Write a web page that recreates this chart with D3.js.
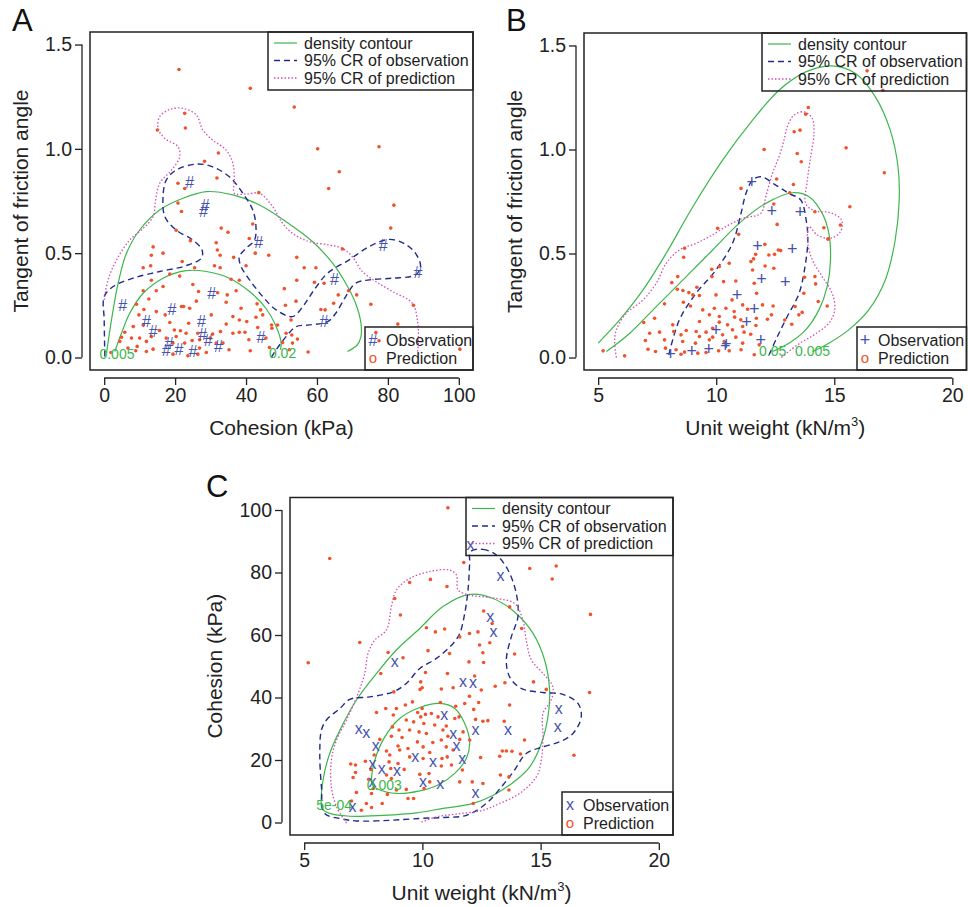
<!DOCTYPE html>
<html>
<head>
<meta charset="utf-8">
<script src="https://cdn.jsdelivr.net/npm/d3@7"></script>
<style>
  body { margin: 0; background: #fff; }
  svg { display: block; font-family: "Liberation Sans", Arial, Helvetica, sans-serif; }
</style>
</head>
<body>
<svg id="chart" width="968" height="907"></svg>
<script>
// ---------- data ----------
// panel A : cohesion (kPa) vs tangent of friction angle
var obsA = [[24.1,0.84],[28.5,0.73],[28,0.70],[43.6,0.55],[78.7,0.54],[88.5,0.41],[64.9,0.375],[5.2,0.25],[19.1,0.23],[30.3,0.31],[11.9,0.175],[27.4,0.175],[13.8,0.125],[62,0.175],[27.8,0.11],[29.3,0.085],[44.2,0.096],[18.3,0.07],[17.5,0.037],[21.1,0.04],[25,0.03],[32.2,0.053]];
var predA = [[21.1,1.38],[41.2,1.29],[53.6,1.2],[22.7,1.17],[22.9,1.1],[15,1.09],[60.2,1.0],[77.5,1.01],[32.2,0.98],[66.3,0.89],[28.3,0.94],[31.8,0.86],[20.8,0.835],[22.7,0.81],[63.3,0.81],[43.6,0.79],[81.7,0.73],[20.8,0.74],[21.8,0.7],[80.8,0.62],[33,0.62],[41.9,0.64],[34.9,0.6],[20.3,0.61],[40.9,0.57],[31.6,0.55],[24.3,0.56],[13.8,0.53],[16.6,0.5],[31.9,0.515],[32.7,0.49],[42.6,0.5],[46.4,0.49],[36.5,0.48],[13.3,0.49],[22,0.46],[40,0.44],[31.1,0.44],[32.7,0.43],[54.3,0.48],[56.4,0.43],[59.7,0.43],[11,0.43],[13.1,0.44],[25.5,0.43],[67.2,0.52],[18.5,0.4],[21.3,0.39],[13.3,0.37],[25,0.35],[35.8,0.375],[38.1,0.37],[54.3,0.37],[62,0.356],[59.3,0.36],[50.8,0.33],[16.6,0.34],[14.7,0.32],[11,0.32],[26.6,0.316],[32,0.31],[37.2,0.32],[34.7,0.3],[66,0.3],[68.9,0.32],[71.2,0.3],[12.6,0.28],[26,0.27],[34.4,0.265],[43.1,0.257],[51.1,0.25],[54.1,0.27],[75.2,0.255],[87.2,0.25],[9.1,0.255],[11.2,0.23],[14.7,0.22],[21.8,0.244],[22.4,0.244],[24.1,0.236],[38.6,0.236],[44.1,0.228],[61.1,0.23],[62.3,0.228],[9.8,0.204],[17.2,0.204],[30.2,0.204],[36.3,0.196],[42.8,0.193],[44.7,0.204],[38.1,0.18],[40.2,0.172],[47.2,0.156],[48.9,0.156],[11,0.156],[18.5,0.168],[23.8,0.164],[34.4,0.16],[43.3,0.144],[82.8,0.16],[52.7,0.18],[76.6,0.12],[77.5,0.08],[8.2,0.148],[5.8,0.121],[15.6,0.129],[19.8,0.132],[21.5,0.128],[23.1,0.116],[26.4,0.116],[32.8,0.124],[36.3,0.116],[38.1,0.121],[39.7,0.121],[30.6,0.112],[47.3,0.14],[51.3,0.116],[52.9,0.108],[4.9,0.097],[7.7,0.093],[10,0.093],[13.3,0.1],[17.5,0.093],[20.3,0.1],[24.8,0.081],[26.9,0.085],[29.9,0.093],[40.8,0.085],[45.6,0.093],[54.5,0.088],[4.4,0.077],[11.9,0.077],[19.4,0.069],[22.7,0.069],[31.6,0.069],[33.5,0.069],[50.3,0.072],[53.1,0.069],[9.3,0.053],[6.7,0.045],[13.8,0.04],[11.9,0.029],[8.9,0.032],[26.9,0.045],[28.8,0.024],[35.2,0.037],[41.2,0.032],[46.6,0.048],[57.5,0.026],[19.4,0.016],[23.6,0.008],[26.4,0.016],[100.3,0.04],[1.9,0.024],[52.2,0.037],[64.7,0.26]];
var densA_005 = [[0.66,0.021],[2.06,0.18],[3.94,0.356],[6.28,0.5],[10,0.611],[15.65,0.707],[22.2,0.763],[28.8,0.795],[36.3,0.779],[43.8,0.731],[51.3,0.651],[58.8,0.555],[64.4,0.452],[68.1,0.356],[70.9,0.26],[72.4,0.164],[72.4,0.1],[71.4,0.061],[68.6,0.029]];
var densA_02 = [[3,0.029],[4.87,0.116],[7.2,0.212],[11,0.308],[16.6,0.38],[23.1,0.416],[28.8,0.412],[35.3,0.38],[41,0.316],[45.6,0.236],[48.5,0.148],[49.9,0.069],[49.7,0.037]];
var crObsA = [[0.19,0.005],[0,0.18],[0,0.292],[2.53,0.34],[8.15,0.38],[15.65,0.412],[23.15,0.44],[27.4,0.476],[27.6,0.515],[25,0.563],[20.3,0.611],[17.1,0.675],[16.6,0.771],[17.5,0.85],[20.3,0.898],[26,0.927],[30.6,0.914],[35.3,0.866],[39.1,0.787],[41.9,0.707],[42.8,0.627],[42.4,0.563],[40,0.523],[38.1,0.483],[38.6,0.436],[41,0.372],[44.7,0.292],[48.5,0.228],[53.1,0.196],[56,0.244],[59.2,0.324],[63,0.404],[69.1,0.468],[74.7,0.531],[80.3,0.566],[84.5,0.547],[87.8,0.499],[89.2,0.436],[87.8,0.396],[81.3,0.38],[74.7,0.372],[70.9,0.356],[68.1,0.292],[65.3,0.212],[63,0.172],[57.8,0.156],[54.1,0.148],[51.3,0.1],[48.5,0.037],[47,-0.003]];
var crPredA = [[0,0.276],[1.1,0.372],[3.5,0.468],[7.2,0.563],[11,0.619],[13.8,0.675],[14.5,0.755],[15.65,0.835],[19,0.898],[21.3,0.962],[20.8,1.01],[17.1,1.05],[15.2,1.098],[15.65,1.154],[18.5,1.189],[22.2,1.194],[26,1.162],[27.8,1.09],[30.6,1.042],[34.4,0.994],[36.3,0.93],[36.7,0.85],[36.7,0.787],[40,0.783],[43.8,0.787],[47.5,0.723],[50.3,0.643],[53.1,0.595],[57.8,0.555],[63.5,0.539],[67.2,0.523],[70,0.483],[72.8,0.412],[76.6,0.364],[81.3,0.316],[86.9,0.26],[88.3,0.18],[88.6,0.069],[88.3,0.021]];

// panel B : unit weight vs tangent of friction angle
var obsB = [[11.51,0.845],[12.35,0.704],[13.55,0.7],[11.75,0.536],[13.22,0.522],[11.92,0.378],[12.92,0.365],[10.88,0.301],[11.61,0.234],[11.28,0.171],[9.99,0.133],[11.89,0.085],[10.38,0.058],[10.42,0.066],[9.68,0.042],[8.96,0.032],[8.06,0.016]];
var predB = [[16.39,1.378],[17.06,1.285],[13.9,1.202],[13.79,1.17],[13.55,1.093],[13.3,1.085],[12.03,1.0],[15.5,1.008],[13.43,0.981],[13.6,0.941],[17.12,0.888],[12.56,0.858],[13.27,0.832],[11.05,0.813],[13.11,0.792],[12.44,0.738],[15.66,0.725],[14.18,0.701],[12.58,0.64],[14.56,0.624],[15.26,0.637],[10.06,0.621],[10.95,0.592],[14.74,0.57],[12.06,0.544],[12.63,0.517],[12.73,0.514],[8.66,0.525],[11.67,0.496],[12.23,0.493],[12.47,0.496],[8.62,0.482],[11.58,0.474],[12.07,0.44],[11.47,0.461],[12.44,0.429],[9.81,0.424],[10.13,0.437],[10.55,0.453],[11.54,0.421],[13.74,0.386],[9.82,0.389],[8.37,0.389],[10.31,0.365],[8.12,0.36],[10.83,0.368],[11.61,0.357],[14.21,0.354],[9.18,0.338],[8.35,0.328],[8.59,0.322],[8.84,0.312],[9.01,0.301],[9.29,0.298],[9.99,0.301],[11.71,0.309],[13.71,0.309],[7.81,0.258],[8.61,0.266],[8.91,0.248],[10.67,0.277],[11.12,0.253],[11.96,0.253],[12.41,0.248],[13.34,0.245],[14.32,0.269],[14.7,0.248],[7.39,0.189],[6.93,0.168],[9.43,0.229],[9.92,0.237],[10.41,0.237],[10.76,0.221],[11.33,0.232],[12.34,0.205],[13.5,0.205],[13.64,0.217],[9.71,0.205],[10.13,0.197],[10.78,0.194],[11.04,0.181],[11.7,0.189],[12.17,0.184],[8.16,0.157],[9.29,0.173],[10.13,0.17],[10.48,0.157],[11.12,0.149],[11.68,0.154],[8.2,0.125],[8.73,0.13],[9.15,0.125],[9.57,0.122],[9.85,0.141],[10.69,0.133],[11.18,0.122],[11.46,0.112],[7.6,0.122],[7.18,0.117],[8.51,0.109],[9.29,0.101],[9.85,0.098],[10.27,0.109],[10.83,0.098],[7.0,0.082],[7.81,0.085],[8.58,0.077],[9.12,0.069],[9.71,0.085],[10.34,0.077],[11.12,0.069],[11.82,0.061],[7.11,0.04],[7.43,0.029],[7.85,0.045],[8.3,0.037],[8.66,0.026],[9.22,0.021],[9.57,0.024],[10.1,0.032],[10.55,0.032],[11.05,0.037],[11.61,0.013],[5.21,0.032],[6.12,0.008],[8.51,0.016],[14.73,0.57],[14.18,0.389],[12.9,0.18],[13.2,0.16]];
var densB_005 = [[5.0,0.069],[5.91,0.181],[6.9,0.325],[7.88,0.501],[9.01,0.725],[10.27,0.949],[11.54,1.141],[12.66,1.285],[13.79,1.373],[14.91,1.402],[15.9,1.365],[16.74,1.253],[17.37,1.093],[17.7,0.917],[17.75,0.757],[17.58,0.565],[17.16,0.373],[16.46,0.229],[15.61,0.133],[14.77,0.069],[14.07,0.029]];
var densB_05 = [[5.35,0.029],[6.34,0.117],[7.46,0.245],[8.73,0.389],[9.85,0.517],[10.97,0.645],[12.1,0.741],[13.22,0.792],[13.93,0.773],[14.49,0.693],[14.77,0.597],[14.84,0.469],[14.7,0.341],[14.35,0.229],[13.79,0.133],[13.08,0.069],[12.38,0.029]];
var crObsB = [[7.99,0.013],[8.44,0.181],[9.15,0.309],[9.99,0.421],[10.69,0.549],[11.05,0.693],[11.26,0.789],[11.54,0.853],[11.89,0.869],[12.52,0.829],[13.08,0.789],[13.58,0.757],[13.81,0.661],[13.88,0.565],[13.76,0.437],[13.51,0.309],[13.01,0.197],[12.59,0.101],[12.24,0.013]];
var crPredB = [[5.77,0.0],[5.7,0.069],[5.77,0.133],[6.2,0.213],[6.9,0.277],[7.46,0.357],[7.88,0.453],[8.44,0.517],[9.15,0.549],[9.71,0.581],[10.41,0.629],[11.12,0.669],[11.89,0.693],[12.1,0.773],[12.38,0.885],[12.66,0.965],[12.87,1.045],[13.01,1.109],[13.29,1.165],[13.72,1.181],[14.07,1.149],[14.14,1.077],[14.0,0.965],[13.86,0.853],[13.79,0.741],[14.14,0.706],[14.84,0.696],[15.31,0.661],[15.26,0.605],[14.84,0.573],[14.28,0.589],[13.93,0.629],[13.86,0.565],[14.07,0.469],[14.49,0.389],[14.91,0.309],[15.02,0.229],[14.77,0.165],[14.14,0.109],[13.44,0.061],[12.73,-0.003]];

// panel C : unit weight vs cohesion
var obsC = [[12.04,88.6],[13.3,78.7],[12.87,65.8],[13.01,61.0],[8.83,51.4],[11.72,45.0],[12.14,44.5],[15.77,36.2],[15.73,30.6],[10.92,34.2],[12.25,29.6],[13.62,29.6],[7.31,29.8],[7.63,28.5],[11.3,28.2],[11.44,24.4],[8.03,24.5],[9.7,21.0],[11.69,20.2],[7.89,18.7],[10.45,19.2],[8.28,17.0],[8.93,16.5],[7.89,13.0],[10.03,13.0],[10.76,12.2],[12.25,9.3],[7.04,5.0]];
var predC = [[11.08,100.7],[6.08,84.5],[11.75,83.2],[15.66,82.1],[14.54,81.3],[10.34,77.8],[9.46,76.8],[15.49,77.9],[11.04,75.5],[8.83,71.7],[13.69,69.0],[9.07,66.4],[12.59,67.7],[17.11,66.6],[12.95,63.7],[11.99,60.5],[10.17,62.3],[10.55,61.0],[10.94,61.9],[12.35,61.0],[14.2,62.1],[11.58,59.4],[12.85,57.5],[12.42,56.8],[7.35,57.6],[10.24,55.0],[8.55,54.4],[9.18,52.7],[11.15,54.1],[13.9,53.9],[12.56,54.3],[5.17,51.1],[11.97,51.4],[12.59,51.2],[8.24,47.7],[10.13,48.0],[11.06,47.7],[12.21,46.9],[14.7,45.0],[13.49,44.7],[9.93,45.0],[8.79,41.8],[9.99,43.1],[9.9,42.6],[10.8,42.7],[11.3,43.1],[11.99,40.4],[12.49,42.4],[13.08,43.6],[15.24,42.6],[17.07,41.6],[11.79,38.1],[12.38,38.4],[10.76,38.4],[9.58,38.6],[9.28,37.6],[13.69,37.6],[8.45,36.5],[8.9,36.5],[9.99,36.5],[11.41,37.2],[12.17,36.2],[8.06,35.2],[8.77,34.4],[9.8,35.2],[9.93,33.8],[10.13,34.6],[10.38,34.9],[10.66,33.8],[11.37,33.3],[11.55,33.8],[12.25,33.0],[12.56,32.4],[12.77,32.6],[13.46,32.4],[9.32,32.8],[9.63,32.2],[10.06,31.7],[10.52,31.2],[11.01,30.9],[8.73,30.6],[9.01,29.6],[9.46,29.6],[9.86,29.0],[10.17,28.5],[10.87,29.6],[11.72,29.0],[12.0,26.4],[11.58,26.6],[11.08,27.6],[8.69,27.6],[9.14,27.2],[8.2,26.6],[9.79,25.8],[10.44,25.6],[10.8,26.4],[14.32,26.4],[8.97,24.5],[9.39,23.7],[10.03,24.2],[11.01,24.2],[8.48,22.9],[9.04,23.2],[10.31,22.4],[11.3,23.2],[13.38,22.9],[13.55,22.9],[13.79,22.8],[7.96,21.6],[8.62,21.6],[9.46,21.0],[10.03,20.5],[10.83,20.5],[11.05,21.0],[12.46,20.8],[14.15,21.9],[16.41,21.5],[13.27,21.2],[7.59,19.6],[8.59,19.4],[8.97,18.9],[11.23,18.4],[10.8,18.1],[6.97,18.7],[7.17,18.4],[8.66,17.3],[9.23,17.0],[11.69,16.8],[7.82,17.0],[7.17,16.0],[8.48,15.2],[10.28,15.7],[9.89,15.4],[13.3,15.2],[8.69,14.1],[13.66,14.6],[7.07,14.4],[10.31,13.0],[11.58,13.0],[12.11,13.0],[12.56,12.5],[7.73,13.8],[7.92,10.9],[10.07,10.9],[8.9,10.4],[9.32,10.6],[7.21,9.6],[8.52,9.0],[7.85,9.3],[13.66,10.4],[9.39,7.7],[9.63,7.7],[7.0,6.9],[8.3,6.1],[12.15,6.1],[7.63,6.1],[7.85,4.8],[7.42,3.9]];
var densC_0005 = [[5.73,5.0],[5.8,13.6],[6.08,22.1],[6.58,30.6],[7.21,39.2],[8.06,47.7],[8.9,55.2],[9.89,62.1],[10.87,69.1],[12.0,73.0],[12.99,71.7],[13.97,66.9],[14.68,60.5],[15.17,52.0],[15.38,42.4],[15.31,33.8],[15.03,25.3],[14.54,17.8],[13.97,13.6],[13.13,9.3],[12.14,6.1],[10.87,4.5],[9.75,3.1],[8.34,2.3],[6.93,2.0],[6.08,2.9],[5.77,4.2]];
var densC_003 = [[7.85,13.6],[7.99,20.0],[8.41,27.4],[9.04,33.3],[9.89,36.8],[10.73,38.1],[11.37,36.5],[11.79,31.7],[12.0,25.8],[11.86,20.5],[11.37,15.7],[10.66,12.0],[9.89,10.1],[8.9,9.3],[8.2,10.4],[7.89,12.0]];
var crObsC = [[12.04,86.7],[12.56,87.4],[13.13,85.6],[13.62,80.8],[13.97,73.3],[14.04,65.8],[13.76,59.4],[13.55,52.0],[13.69,46.6],[14.18,42.9],[15.1,41.6],[15.94,41.0],[16.58,38.1],[16.72,33.8],[16.37,28.5],[15.8,25.8],[15.1,24.2],[14.39,22.1],[13.9,16.8],[13.41,12.0],[12.7,6.1],[11.86,2.3],[10.87,1.6],[9.89,1.3],[8.62,0.7],[7.21,0.5],[6.51,1.3],[5.87,2.9],[5.73,11.4],[5.66,22.1],[5.73,29.6],[5.94,32.8],[6.51,36.5],[6.93,39.4],[7.77,40.2],[8.76,41.8],[9.32,44.5],[9.89,49.3],[10.59,52.5],[11.3,57.3],[11.58,60.5],[11.79,66.9],[11.93,74.4],[12.0,82.9]];
var crPredC = [[6.79,-0.2],[6.37,5.0],[6.15,11.4],[6.15,20.0],[6.37,26.4],[6.79,32.8],[7.28,41.3],[7.56,47.7],[7.7,54.1],[7.99,58.4],[8.48,61.6],[8.69,69.1],[8.9,74.4],[9.46,78.1],[10.31,80.3],[11.15,80.8],[11.44,79.2],[11.51,74.4],[12.0,72.8],[13.13,71.7],[13.9,70.1],[14.25,64.8],[14.39,58.4],[14.61,52.0],[15.1,47.7],[15.52,43.4],[15.45,39.2],[15.1,34.9],[15.1,27.4],[15.03,20.0],[14.82,14.6],[14.11,9.3],[13.27,6.1],[12.56,3.9],[11.44,2.7],[10.59,1.8],[9.89,-0.1]];

// ticks and labels
var ticksCoh = [0, 20, 40, 60, 80, 100];
var ticksTan = [0, 0.5, 1.0, 1.5];
var ticksUw = [5, 10, 15, 20];
var lineLegend = ["density contour", "95% CR of observation", "95% CR of prediction"];
var pointLegend = ["Observation", "Prediction"];

// colours
var cGreen = "#3db64c", cNavy = "#202c8a", cPink = "#d24fb4", cRed = "#f0522b", cObs = "#4652ac";

var svg = d3.select("#chart");

function drawPanel(p) {
  var b = p.box;
  var g = svg.append("g");
  var x = d3.scaleLinear().domain(p.xDomain).range([b.left, b.right]);
  var y = d3.scaleLinear().domain(p.yDomain).range([b.bottom, b.top]);

  g.append("clipPath").attr("id", "clip" + p.id)
    .append("rect").attr("x", b.left).attr("y", b.top)
    .attr("width", b.right - b.left).attr("height", b.bottom - b.top);

  // axes, R style: detached line that spans first..last tick
  var xa = g.append("g").attr("transform", "translate(0," + (b.bottom + 8) + ")")
    .call(d3.axisBottom(x).tickValues(p.xTicks).tickSize(7).tickSizeOuter(0).tickPadding(3).tickFormat(p.xFmt));
  xa.select(".domain").remove();
  xa.append("line").attr("x1", x(p.xTicks[0])).attr("x2", x(p.xTicks[p.xTicks.length - 1]));
  var ya = g.append("g").attr("transform", "translate(" + (b.left - 8) + ",0)")
    .call(d3.axisLeft(y).tickValues(p.yTicks).tickSize(7).tickSizeOuter(0).tickPadding(3).tickFormat(p.yFmt));
  ya.select(".domain").remove();
  ya.append("line").attr("y1", y(p.yTicks[0])).attr("y2", y(p.yTicks[p.yTicks.length - 1]));
  [xa, ya].forEach(function(a) {
    a.attr("font-family", null).attr("font-size", 19.5);
    a.selectAll("line").attr("stroke", "#222").attr("stroke-width", 1.3);
    a.selectAll("text").attr("fill", "#222");
  });

  // contours
  var line = d3.line().x(function(d) { return x(d[0]); }).y(function(d) { return y(d[1]); });
  var plot = g.append("g").attr("clip-path", "url(#clip" + p.id + ")");
  p.curves.forEach(function(c) {
    plot.append("path")
      .attr("d", line.curve(c.closed ? d3.curveCatmullRomClosed : d3.curveCatmullRom)(c.data))
      .attr("fill", "none")
      .attr("stroke", c.color)
      .attr("stroke-width", c.width)
      .attr("stroke-dasharray", c.dash);
  });

  // predictions
  plot.selectAll("circle.pred").data(p.pred).enter().append("circle")
    .attr("class", "pred")
    .attr("cx", function(d) { return x(d[0]); })
    .attr("cy", function(d) { return y(d[1]); })
    .attr("r", 1.8)
    .attr("fill", cRed);

  // observations
  plot.selectAll("text.obs").data(p.obs).enter().append("text")
    .attr("class", "obs")
    .attr("x", function(d) { return x(d[0]); })
    .attr("y", function(d) { return y(d[1]); })
    .attr("dy", p.symDy)
    .attr("text-anchor", "middle")
    .attr("font-size", p.symSize)
    .attr("fill", cObs)
    .text(p.sym);

  // contour level labels
  p.levels.forEach(function(l) {
    g.append("text").attr("x", x(l.at[0])).attr("y", y(l.at[1])).attr("dy", "0.35em")
      .attr("text-anchor", "middle").attr("font-size", 14).attr("fill", cGreen).text(l.text);
  });

  // plot box
  g.append("rect").attr("x", b.left).attr("y", b.top)
    .attr("width", b.right - b.left).attr("height", b.bottom - b.top)
    .attr("fill", "none").attr("stroke", "#222").attr("stroke-width", 1.5);

  // axis titles
  var xt = g.append("text").attr("x", (b.left + b.right) / 2).attr("y", b.bottom + 65)
    .attr("text-anchor", "middle").attr("font-size", 21).attr("fill", "#222");
  xt.append("tspan").text(p.xTitle[0]);
  if (p.xTitle[1]) {
    xt.append("tspan").attr("font-size", 13).attr("dy", -9).text(p.xTitle[1]);
    xt.append("tspan").attr("dy", 9).text(p.xTitle[2]);
  }
  g.append("text")
    .attr("transform", "translate(" + (b.left - p.yTitleOff) + "," + ((b.top + b.bottom) / 2) + ") rotate(-90)")
    .attr("text-anchor", "middle").attr("font-size", 21).attr("fill", "#222").text(p.yTitle);

  // panel letter
  g.append("text").attr("x", p.letterAt[0]).attr("y", p.letterAt[1])
    .attr("font-size", 31).attr("fill", "#111").text(p.id);

  // top legend (transparent, as in R)
  var L = p.legTop;
  g.append("rect").attr("x", L.x).attr("y", b.top).attr("width", b.right - L.x).attr("height", L.h)
    .attr("fill", "none").attr("stroke", "#222").attr("stroke-width", 1.5);
  lineLegend.forEach(function(t, i) {
    var c = p.curves[[0, 2, 3][i]];
    var ly = b.top + 11 + i * 17.5;
    g.append("line").attr("x1", L.x + 6).attr("x2", L.x + 29).attr("y1", ly).attr("y2", ly)
      .attr("stroke", c.color).attr("stroke-width", c.width).attr("stroke-dasharray", c.dash);
    g.append("text").attr("x", L.x + 36).attr("y", ly).attr("dy", "0.35em")
      .attr("font-size", 16).attr("fill", "#222").text(t);
  });

  // bottom legend
  var B = p.legBot;
  g.append("rect").attr("x", B.x).attr("y", b.bottom - 43).attr("width", b.right - B.x).attr("height", 43)
    .attr("fill", "none").attr("stroke", "#222").attr("stroke-width", 1.5);
  pointLegend.forEach(function(t, i) {
    var ly = b.bottom - 30 + i * 18;
    g.append("text").attr("x", B.x + 8).attr("y", ly).attr("dy", i === 0 ? p.symDy : "0.35em")
      .attr("text-anchor", "middle").attr("font-size", i === 0 ? p.symSize : 15)
      .attr("fill", i === 0 ? cObs : cRed).text(i === 0 ? p.sym : "o");
    g.append("text").attr("x", B.x + 21).attr("y", ly).attr("dy", "0.35em")
      .attr("font-size", 16).attr("fill", "#222").text(t);
  });
}

function curveSet(dOuter, dInner, obs, pred, closedGreen, closedObs) {
  return [
    {data: dOuter, color: cGreen, width: 1.2, dash: null, closed: closedGreen},
    {data: dInner, color: cGreen, width: 1.2, dash: null, closed: closedGreen},
    {data: obs, color: cNavy, width: 1.4, dash: "6,4", closed: closedObs},
    {data: pred, color: cPink, width: 1.3, dash: "1.5,2", closed: false}
  ];
}

var fmt1 = d3.format(".1f");
var fmt0 = d3.format("d");

drawPanel({
  id: "A", box: {left: 90, right: 473, top: 32, bottom: 370},
  xDomain: [-4, 104], yDomain: [-0.06, 1.56],
  xTicks: ticksCoh, yTicks: ticksTan, xFmt: fmt0, yFmt: fmt1,
  curves: curveSet(densA_005, densA_02, crObsA, crPredA, false, false),
  pred: predA, obs: obsA, sym: "#", symSize: 16, symDy: "0.36em",
  levels: [{text: "0.005", at: [3.6, 0.018]}, {text: "0.02", at: [50.3, 0.02]}],
  xTitle: ["Cohesion (kPa)"], yTitle: "Tangent of friction angle", yTitleOff: 62,
  letterAt: [12, 31], legTop: {x: 268, h: 58}, legBot: {x: 365}
});

drawPanel({
  id: "B", box: {left: 584, right: 966.5, top: 33, bottom: 370},
  xDomain: [4.4, 20.6], yDomain: [-0.06, 1.56],
  xTicks: ticksUw, yTicks: ticksTan, xFmt: fmt0, yFmt: fmt1,
  curves: curveSet(densB_005, densB_05, crObsB, crPredB, false, false),
  pred: predB, obs: obsB, sym: "+", symSize: 18, symDy: "0.34em",
  levels: [{text: "0.05", at: [12.39, 0.029]}, {text: "0.005", at: [14.08, 0.029]}],
  xTitle: ["Unit weight (kN/m", "3", ")"], yTitle: "Tangent of friction angle", yTitleOff: 62,
  letterAt: [506, 31], legTop: {x: 762, h: 58}, legBot: {x: 857}
});

drawPanel({
  id: "C", box: {left: 290, right: 673, top: 497.5, bottom: 835},
  xDomain: [4.4, 20.6], yDomain: [-4, 104],
  xTicks: ticksUw, yTicks: ticksCoh, xFmt: fmt0, yFmt: fmt0,
  curves: curveSet(densC_0005, densC_003, crObsC, crPredC, true, true),
  pred: predC, obs: obsC, sym: "x", symSize: 16, symDy: "0.3em",
  levels: [{text: "0.003", at: [8.39, 11.9]}, {text: "5e-04", at: [6.27, 5.5]}],
  xTitle: ["Unit weight (kN/m", "3", ")"], yTitle: "Cohesion (kPa)", yTitleOff: 68,
  letterAt: [206, 497], legTop: {x: 466, h: 58}, legBot: {x: 562}
});
</script>
</body>
</html>
